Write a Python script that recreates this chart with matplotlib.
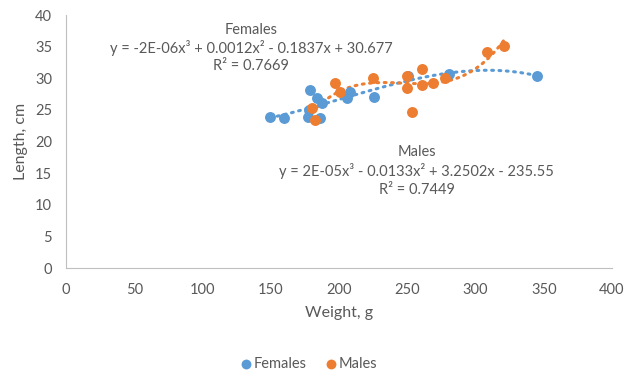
import numpy as np
import matplotlib
matplotlib.use('Agg')
import matplotlib.pyplot as plt

plt.rcParams['font.family'] = ['Lato', 'DejaVu Sans']

# weight (g) and length (cm)
fem_w = [149.5, 159.7, 177.3, 178.0, 178.8, 183.9, 186.1, 187.5, 205.9, 208.1, 225.6, 250.5, 280.6, 345.1]
fem_l = [23.9, 23.7, 23.9, 25.0, 28.1, 26.9, 23.7, 26.1, 26.9, 27.8, 27.0, 30.4, 30.7, 30.4]
male_w = [180.2, 182.4, 197.1, 200.7, 224.9, 249.8, 249.8, 253.5, 260.8, 260.8, 268.9, 277.7, 308.4, 320.9]
male_l = [25.3, 23.4, 29.2, 27.8, 30.0, 28.5, 30.4, 24.7, 31.5, 28.9, 29.2, 30.0, 34.2, 35.1]

fem_eq = 'y = -2E-06x³ + 0.0012x² - 0.1837x + 30.677'
fem_r2 = 'R² = 0.7669'
male_eq = 'y = 2E-05x³ - 0.0133x² + 3.2502x - 235.55'
male_r2 = 'R² = 0.7449'

blue = '#5B9BD5'
orange = '#ED7D31'
grey = '#595959'

fig = plt.figure(figsize=(6.29, 3.76), dpi=100)
ax = fig.add_axes([0.105, 0.287, 0.868, 0.673])

ax.scatter(fem_w, fem_l, s=62, color=blue, label='Females', zorder=3, linewidths=0)
ax.scatter(male_w, male_l, s=62, color=orange, label='Males', zorder=3, linewidths=0)

# cubic trendlines, as in Excel
for w, l, c in [(fem_w, fem_l, blue), (male_w, male_l, orange)]:
    p = np.polyfit(w, l, 3)
    xs = np.linspace(min(w), max(w), 200)
    ax.plot(xs, np.polyval(p, xs), color=c, lw=2.2, ls=(0, (0.6, 1.8)),
            dash_capstyle='round', zorder=2)

ax.set_xlim(0, 400)
ax.set_ylim(0, 40)
ax.set_xticks(range(0, 401, 50))
ax.set_yticks(range(0, 41, 5))
for s in ['top', 'right']:
    ax.spines[s].set_visible(False)
for s in ['left', 'bottom']:
    ax.spines[s].set_color('#BFBFBF')
ax.tick_params(length=0, labelsize=10.5, colors=grey)
ax.tick_params(axis='x', pad=11)
ax.tick_params(axis='y', pad=10)
ax.set_xlabel('Weight, g', fontsize=11.5, color=grey, labelpad=6)
ax.set_ylabel('Length, cm', fontsize=11.5, color=grey, labelpad=5)

# trendline labels
tk = dict(fontsize=10.5, color=grey, ha='center', va='center', transform=fig.transFigure)
fig.text(251 / 629, 1 - 30 / 376, 'Females', **tk)
fig.text(251 / 629, 1 - 48 / 376, fem_eq, **tk)
fig.text(251 / 629, 1 - 66 / 376, fem_r2, **tk)
fig.text(417 / 629, 1 - 152 / 376, 'Males', **tk)
fig.text(416 / 629, 1 - 171 / 376, male_eq, **tk)
fig.text(417 / 629, 1 - 190 / 376, male_r2, **tk)

fig.legend(loc='center', bbox_to_anchor=(0.49, 1 - 364 / 376), ncol=2, frameon=False,
           fontsize=10.5, labelcolor=grey, handletextpad=0.0, columnspacing=1.2,
           handlelength=1.0, markerscale=0.9)

fig.savefig('out.png', dpi=100)
